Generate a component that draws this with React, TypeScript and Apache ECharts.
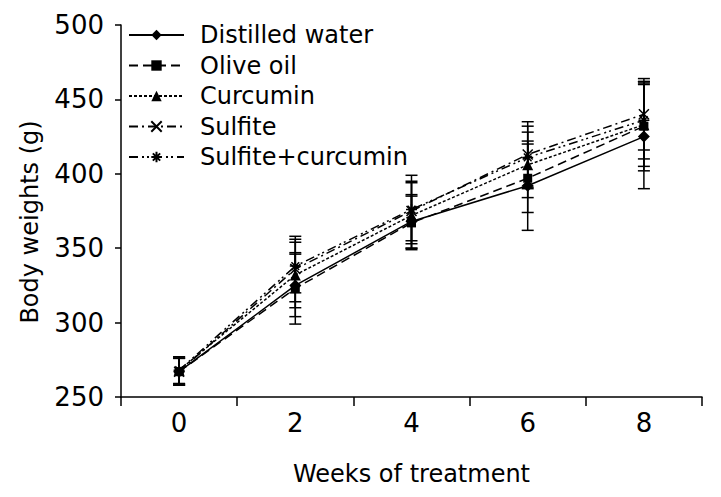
import React, { useEffect, useRef } from "react";
import * as echarts from "echarts";

const weeks = ["0", "2", "4", "6", "8"];
const seriesNames = ["Distilled water", "Olive oil", "Curcumin", "Sulfite", "Sulfite+curcumin"];

const distilledWater = [267, 325, 368, 392, 425];
const oliveOil = [267, 323, 367, 397, 432];
const curcumin = [268, 332, 372, 406, 433];
const sulfite = [267, 336, 375, 413, 440];
const sulfiteCurcumin = [268, 338, 376, 411, 436];

const distilledWaterSd = [9, 21, 18, 30, 35];
const oliveOilSd = [9, 24, 18, 23, 30];
const curcuminSd = [9, 22, 22, 22, 28];
const sulfiteSd = [9, 22, 20, 22, 24];
const sulfiteCurcuminSd = [9, 18, 23, 21, 26];

const yTicks = [250, 300, 350, 400, 450, 500];

const FONT = "DejaVu Sans, Liberation Sans, Arial, sans-serif";

const X_PATH = "path://M0,0 L10,10 M10,0 L0,10";
const AST_PATH = "path://M5,0 L5,10 M0,5 L10,5 M1.5,1.5 L8.5,8.5 M8.5,1.5 L1.5,8.5";

const means = [distilledWater, oliveOil, curcumin, sulfite, sulfiteCurcumin];
const sds = [distilledWaterSd, oliveOilSd, curcuminSd, sulfiteSd, sulfiteCurcuminSd];
const symbols = ["diamond", "rect", "triangle", X_PATH, AST_PATH];
const symbolSizes = [12, 9, 11, 10, 11];
const lineTypes: any[] = ["solid", [9, 5], [3, 2], [9, 4, 2, 4], [9, 4, 2, 3, 2, 4]];

export default function App() {
  const ref = useRef<HTMLDivElement>(null);
  useEffect(() => {
    if (!ref.current) return;
    const chart = echarts.init(ref.current, null, { renderer: "svg" });

    const errData: number[][] = [];
    means.forEach((arr, si) => {
      arr.forEach((m, i) => {
        errData.push([i, m - sds[si][i], m + sds[si][i]]);
      });
    });

    const lineSeries = seriesNames.map((name, si) => ({
      name,
      type: "line",
      data: means[si],
      symbol: symbols[si],
      symbolSize: symbolSizes[si],
      showAllSymbol: true,
      z: 3,
      lineStyle: { color: "#000", width: 1.5, type: lineTypes[si] },
      itemStyle: { color: "#000", borderColor: "#000", borderWidth: si >= 3 ? 1.5 : 0 },
      emphasis: { disabled: true },
    }));

    chart.setOption({
      animation: false,
      backgroundColor: "#fff",
      grid: { left: 121, right: 19, top: 25, bottom: 100 },
      legend: {
        data: seriesNames,
        orient: "vertical",
        left: 123,
        top: 18,
        itemWidth: 55,
        itemHeight: 13,
        itemGap: 6.5,
        textStyle: { fontSize: 24, fontFamily: FONT, color: "#000", padding: [0, 0, 0, 11] },
        selectedMode: false,
      },
      xAxis: {
        type: "category",
        data: weeks,
        boundaryGap: true,
        name: "Weeks of treatment",
        nameLocation: "middle",
        nameGap: 65,
        nameTextStyle: { fontSize: 24, fontFamily: FONT, color: "#000" },
        axisLine: { lineStyle: { color: "#000", width: 1.5 } },
        axisTick: { show: true, length: 9, inside: false, lineStyle: { color: "#000", width: 1.5 } },
        axisLabel: { fontSize: 26, fontFamily: FONT, color: "#000", margin: 13 },
        splitLine: { show: false },
      },
      yAxis: {
        type: "value",
        min: yTicks[0],
        max: yTicks[yTicks.length - 1],
        interval: 50,
        name: "Body weights (g)",
        nameLocation: "middle",
        nameGap: 79,
        nameTextStyle: { fontSize: 24, fontFamily: FONT, color: "#000", padding: [0, 22, 0, 0] },
        axisLine: { show: true, lineStyle: { color: "#000", width: 1.5 } },
        axisTick: { show: true, length: 6, lineStyle: { color: "#000", width: 1.5 } },
        axisLabel: { fontSize: 26, fontFamily: FONT, color: "#000", margin: 17 },
        splitLine: { show: false },
      },
      series: [
        ...lineSeries,
        {
          type: "custom",
          name: "err",
          data: errData,
          z: 2,
          silent: true,
          renderItem: (params: any, api: any) => {
            const x = api.value(0);
            const lo = api.coord([x, api.value(1)]);
            const hi = api.coord([x, api.value(2)]);
            const hw = 6;
            const style = { stroke: "#000", lineWidth: 1.5 };
            return {
              type: "group",
              children: [
                { type: "line", shape: { x1: lo[0], y1: lo[1], x2: hi[0], y2: hi[1] }, style },
                { type: "line", shape: { x1: lo[0] - hw, y1: lo[1], x2: lo[0] + hw, y2: lo[1] }, style },
                { type: "line", shape: { x1: hi[0] - hw, y1: hi[1], x2: hi[0] + hw, y2: hi[1] }, style },
              ],
            };
          },
        },
      ],
    });
    return () => chart.dispose();
  }, []);
  return <div ref={ref} style={{ width: 721, height: 497, position: "absolute", left: 0, top: 0 }} />;
}
